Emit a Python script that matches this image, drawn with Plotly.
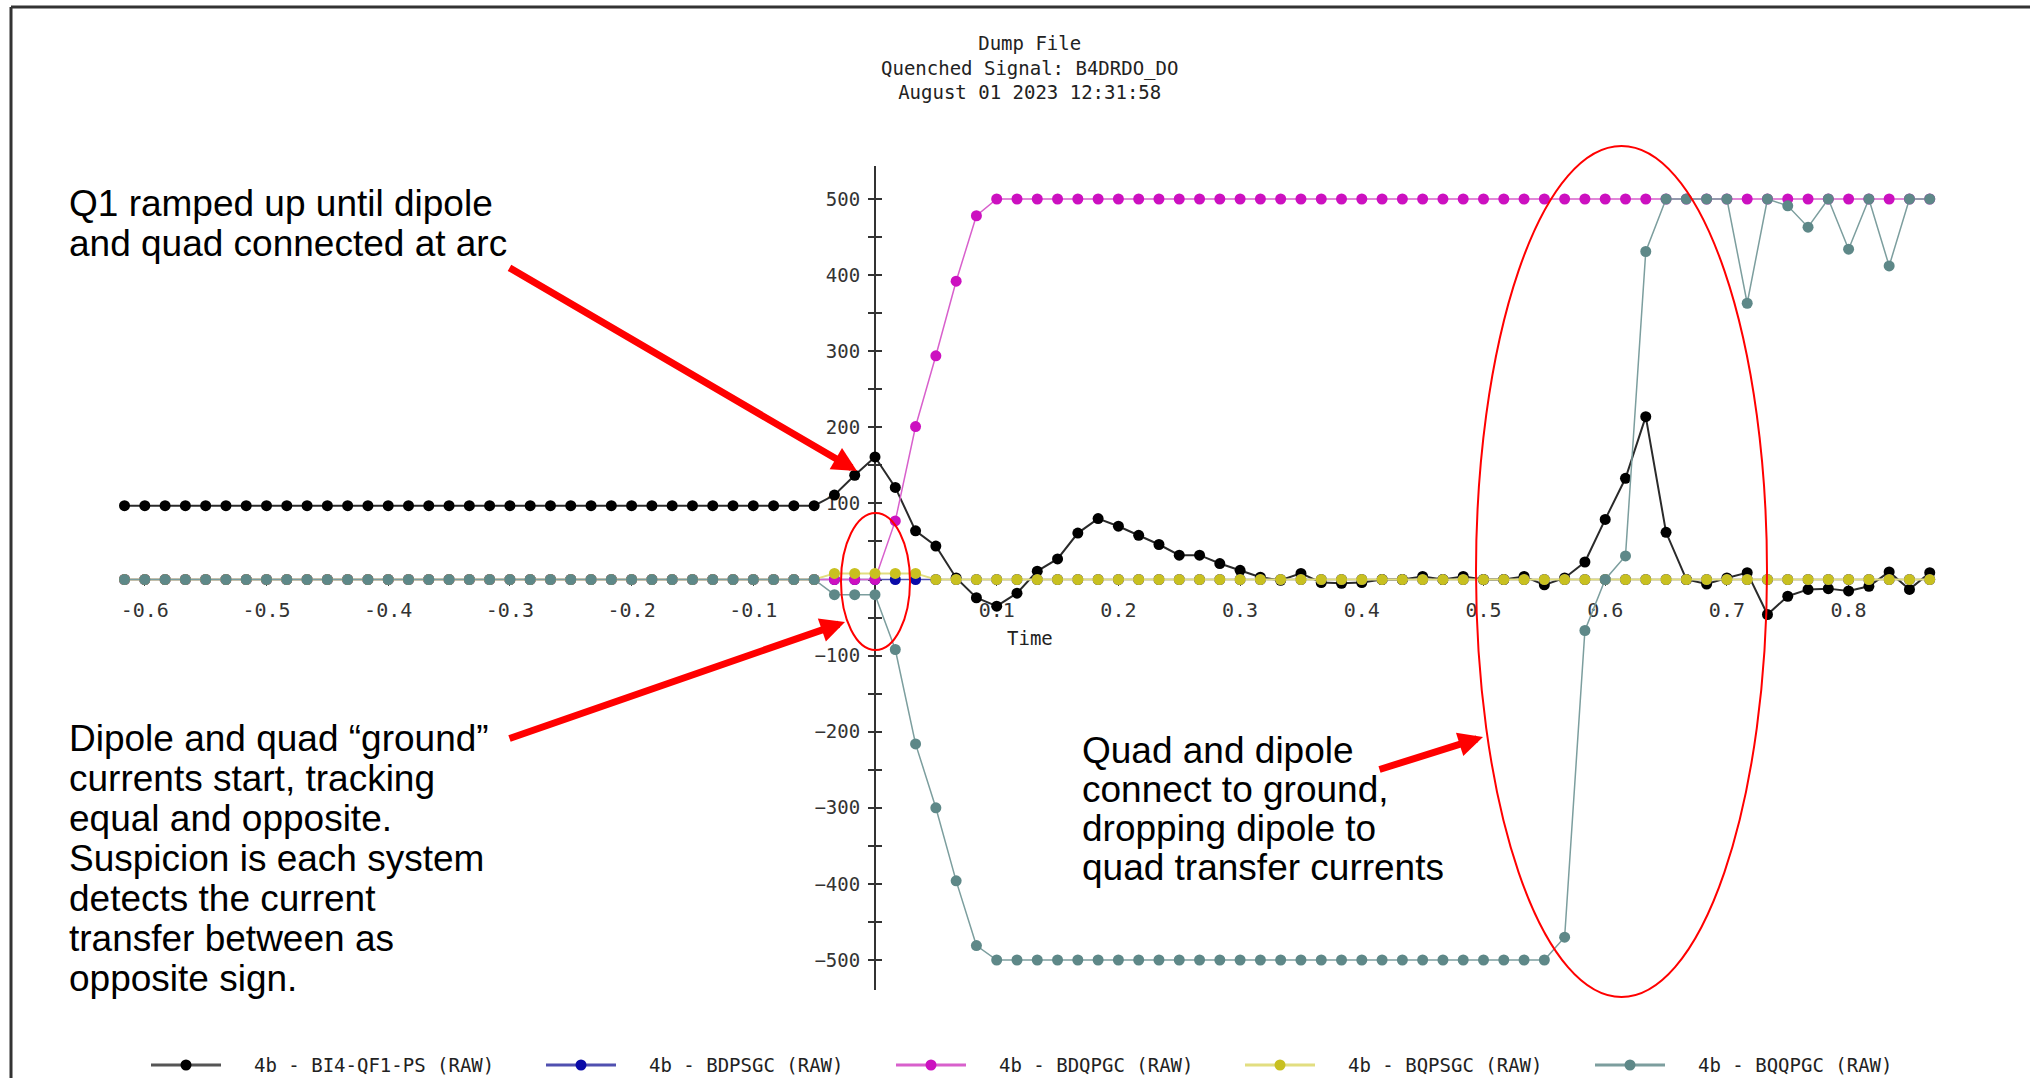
import plotly.graph_objects as go

# ---------------- data ----------------
# samples every 1/60 s, index -37 .. 52
sample_index = list(range(-37, 53))
time_s = [round(k / 60.0, 5) for k in sample_index]

series_names = [
    "4b - BI4-QF1-PS (RAW)",
    "4b - BDPSGC (RAW)",
    "4b - BDQPGC (RAW)",
    "4b - BQPSGC (RAW)",
    "4b - BQQPGC (RAW)",
]

bi4_qf1_ps = [
    97, 97, 97, 97, 97, 97, 97, 97, 97, 97, 97, 97, 97, 97, 97, 97, 97, 97,
    97, 97, 97, 97, 97, 97, 97, 97, 97, 97, 97, 97, 97, 97, 97, 97, 97,
    111, 137, 161, 121, 64, 44, 2, -24, -35, -18, 11, 27, 61, 80, 70, 58,
    46, 32, 32, 21, 12, 3, -1, 8, -4, -5, -4, 0, 0, 4, 0, 4, 0, 0, 4, -7,
    2, 23, 79, 133, 214, 62, 0, -6, 2, 9, -46, -22, -13, -12, -15, -9, 10,
    -13, 9,
]

bdpsgc = [
    0, 0, 0, 0, 0, 0, 0, 0, 0, 0, 0, 0, 0, 0, 0, 0, 0, 0, 0, 0, 0, 0, 0, 0,
    0, 0, 0, 0, 0, 0, 0, 0, 0, 0, 0, 0, 0, 0, 0, 0, 0, 0, 0, 0, 0, 0, 0, 0,
    0, 0, 0, 0, 0, 0, 0, 0, 0, 0, 0, 0, 0, 0, 0, 0, 0, 0, 0, 0, 0, 0, 0, 0,
    0, 0, 0, 0, 0, 0, 0, 0, 0, 0, 0, 0, 0, 0, 0, 0, 0, 0,
]

bdqpgc = [
    0, 0, 0, 0, 0, 0, 0, 0, 0, 0, 0, 0, 0, 0, 0, 0, 0, 0, 0, 0, 0, 0, 0, 0,
    0, 0, 0, 0, 0, 0, 0, 0, 0, 0, 0, 0, 0, 0,
    77, 201, 294, 392, 478,
    500, 500, 500, 500, 500, 500, 500, 500, 500, 500, 500, 500, 500, 500,
    500, 500, 500, 500, 500, 500, 500, 500, 500, 500, 500, 500, 500, 500,
    500, 500, 500, 500, 500, 500, 500, 500, 500, 500, 500, 500, 500, 500,
    500, 500, 500, 500, 500,
]

bqpsgc = [
    0, 0, 0, 0, 0, 0, 0, 0, 0, 0, 0, 0, 0, 0, 0, 0, 0, 0, 0, 0, 0, 0, 0, 0,
    0, 0, 0, 0, 0, 0, 0, 0, 0, 0, 0,
    8, 8, 8, 8, 8,
    0, 0, 0, 0, 0, 0, 0, 0, 0, 0, 0, 0, 0, 0, 0, 0, 0, 0, 0, 0, 0, 0, 0, 0,
    0, 0, 0, 0, 0, 0, 0, 0, 0, 0, 0, 0, 0, 0, 0, 0, 0, 0, 0, 0, 0, 0, 0, 0,
    0, 0,
]

bqqpgc = [
    0, 0, 0, 0, 0, 0, 0, 0, 0, 0, 0, 0, 0, 0, 0, 0, 0, 0, 0, 0, 0, 0, 0, 0,
    0, 0, 0, 0, 0, 0, 0, 0, 0, 0, 0,
    -20, -20, -20, -92, -216, -300, -396, -481,
    -500, -500, -500, -500, -500, -500, -500, -500, -500, -500, -500, -500,
    -500, -500, -500, -500, -500, -500, -500, -500, -500, -500, -500, -500,
    -500, -500, -500, -500,
    -470, -67, 0, 31, 431, 500, 500, 500, 500, 363, 500, 491, 463, 500, 434,
    500, 412, 500, 500,
]

x_tick_vals = [-0.6, -0.5, -0.4, -0.3, -0.2, -0.1, 0.1, 0.2, 0.3, 0.4, 0.5, 0.6, 0.7, 0.8]
x_tick_text = ["-0.6", "-0.5", "-0.4", "-0.3", "-0.2", "-0.1", "0.1", "0.2", "0.3",
               "0.4", "0.5", "0.6", "0.7", "0.8"]
y_tick_vals = [-500, -400, -300, -200, -100, 100, 200, 300, 400, 500]
y_minor_vals = [-450, -350, -250, -150, -50, 0, 50, 150, 250, 350, 450]

title_lines = ["Dump File", "Quenched Signal: B4DRDO_DO", "August 01 2023 12:31:58"]

note_1 = ["Q1 ramped up until dipole", "and quad connected at arc"]
note_2 = ["Dipole and quad \u201cground\u201d", "currents start, tracking",
          "equal and opposite.", "Suspicion is each system",
          "detects the current", "transfer between as", "opposite sign."]
note_3 = ["Quad and dipole", "connect to ground,", "dropping dipole to",
          "quad transfer currents"]

# ---------------- styling / geometry ----------------
FIG_W, FIG_H = 2030, 1078
L, R, T, B = 100, 1960, 166, 990          # plot area in pixels
X0PX, XSCALE = 875.0, 1217.0              # pixel of t=0, px per second
Y0PX, YSCALE = 579.5, 0.761               # pixel of value 0, px per unit

xr = [(L - X0PX) / XSCALE, (R - X0PX) / XSCALE]
yr = [(Y0PX - B) / YSCALE, (Y0PX - T) / YSCALE]


def pxx(p):
    return (p - L) / (R - L)


def pxy(p):
    return (B - p) / (B - T)


MONO = "DejaVu Sans Mono, Liberation Mono, monospace"
SANS = "Liberation Sans, Arial, Helvetica, sans-serif"

marker_colors = ["#000000", "#0a0aa8", "#cc10c0", "#c8c020", "#5e8888"]
line_colors = ["#2a2a2a", "#5050b0", "#d860cc", "#e2de80", "#7c9e9e"]
legend_line_colors = ["#555555", "#5050b0", "#d860cc", "#e2de80", "#7c9e9e"]
line_widths = [2, 1.5, 1.5, 2, 1.5]
all_series = [bi4_qf1_ps, bdpsgc, bdqpgc, bqpsgc, bqqpgc]

fig = go.Figure()
for name, vals, mc, lc, lw in zip(series_names, all_series, marker_colors,
                                  line_colors, line_widths):
    fig.add_trace(go.Scatter(
        x=time_s, y=vals, mode="lines+markers", name=name,
        line=dict(color=lc, width=lw),
        marker=dict(color=mc, size=11),
        showlegend=False,
    ))

# helper trace for the second (inside-tick) y axis
fig.add_trace(go.Scatter(x=[], y=[], yaxis="y2", showlegend=False, hoverinfo="skip"))

fig.update_layout(
    width=FIG_W, height=FIG_H,
    margin=dict(l=L, r=FIG_W - R, t=T, b=FIG_H - B, pad=0),
    paper_bgcolor="white", plot_bgcolor="white",
    showlegend=False,
    xaxis=dict(
        range=xr, domain=[0, 1], anchor="free",
        position=pxy(Y0PX),
        showgrid=False, zeroline=False, showline=False,
        tickmode="array", tickvals=x_tick_vals, ticktext=x_tick_text,
        ticks="outside", ticklen=5, tickwidth=1, tickcolor="#444",
        tickfont=dict(family=MONO, size=20, color="#333"),
        ticklabelstandoff=7,
        layer="below traces",
    ),
    yaxis=dict(
        range=yr, domain=[0, 1], anchor="free", position=pxx(X0PX),
        showgrid=False, zeroline=False, showline=True,
        linecolor="#333", linewidth=2,
        tickmode="array", tickvals=y_tick_vals,
        ticks="outside", ticklen=6, tickwidth=2, tickcolor="#333",
        tickfont=dict(family=MONO, size=19, color="#333"),
        ticklabelstandoff=4,
        minor=dict(tickmode="array", tickvals=y_minor_vals, ticks="outside",
                   ticklen=6, tickwidth=2, tickcolor="#333"),
        layer="below traces",
    ),
    yaxis2=dict(
        range=yr, overlaying="y", anchor="free", position=pxx(X0PX),
        showgrid=False, zeroline=False, showline=False, showticklabels=False,
        tickmode="array", tickvals=y_tick_vals,
        ticks="inside", ticklen=6, tickwidth=2, tickcolor="#333",
        minor=dict(tickmode="array", tickvals=y_minor_vals, ticks="inside",
                   ticklen=6, tickwidth=2, tickcolor="#333"),
        layer="below traces",
    ),
)

annotations = []
shapes = []

# title
annotations.append(dict(
    text="<br>".join(title_lines), x=pxx(1029), y=pxy(68), xref="paper", yref="paper",
    xanchor="center", yanchor="middle", showarrow=False,
    font=dict(family=MONO, size=19, color="#222"),
))
# axis title
annotations.append(dict(
    text="Time", x=pxx(1030), y=pxy(638), xref="paper", yref="paper",
    xanchor="center", yanchor="middle", showarrow=False,
    font=dict(family=MONO, size=19, color="#222"),
))


# note text blocks (one annotation per line to match the tight line spacing)
def add_block(lines, x_left, first_center, step):
    for i, line in enumerate(lines):
        annotations.append(dict(
            text=line, x=pxx(x_left), y=pxy(first_center + i * step),
            xref="paper", yref="paper", xanchor="left", yanchor="middle",
            showarrow=False, font=dict(family=SANS, size=37, color="#000"),
        ))


add_block(note_1, 67, 203, 40)
add_block(note_2, 67, 738, 40)
add_block(note_3, 1080, 750, 39)

# red arrows (tip, tail in pixels)
arrows = [((857, 471), (508, 267)), ((845, 622), (508, 739)), ((1483, 737), (1378, 770))]
for (tx, ty), (sx, sy) in arrows:
    annotations.append(dict(
        text="", x=pxx(tx), y=pxy(ty), xref="paper", yref="paper",
        ax=sx - tx, ay=sy - ty, axref="pixel", ayref="pixel",
        showarrow=True, arrowhead=2, arrowsize=0.7, arrowwidth=7,
        arrowcolor="#ff0000", standoff=0,
    ))

# red ellipses
for x0, x1, y0, y1 in [(841, 910, 513, 650), (1476, 1767, 146, 997)]:
    shapes.append(dict(type="circle", xref="paper", yref="paper",
                       x0=pxx(x0), x1=pxx(x1), y0=pxy(y1), y1=pxy(y0),
                       line=dict(color="#ff0000", width=2), layer="above"))

# outer frame lines (screenshot border)
shapes.append(dict(type="line", xref="paper", yref="paper",
                   x0=pxx(11), x1=pxx(2030), y0=pxy(7), y1=pxy(7),
                   line=dict(color="#333", width=3)))
shapes.append(dict(type="line", xref="paper", yref="paper",
                   x0=pxx(11), x1=pxx(11), y0=pxy(7), y1=pxy(1078),
                   line=dict(color="#333", width=3)))

# legend row
legend_text_x = [252, 647, 997, 1346, 1696]
LEG_Y = 1065
for name, mc, lc, tx in zip(series_names, marker_colors, legend_line_colors, legend_text_x):
    lx0, lx1 = tx - 101, tx - 31
    shapes.append(dict(type="line", xref="paper", yref="paper",
                       x0=pxx(lx0), x1=pxx(lx1), y0=pxy(LEG_Y), y1=pxy(LEG_Y),
                       line=dict(color=lc, width=3)))
    cx = (lx0 + lx1) / 2
    shapes.append(dict(type="circle", xref="paper", yref="paper",
                       x0=pxx(cx - 5.5), x1=pxx(cx + 5.5), y0=pxy(LEG_Y + 5.5),
                       y1=pxy(LEG_Y - 5.5),
                       fillcolor=mc, line=dict(color=mc, width=0)))
    annotations.append(dict(
        text=name, x=pxx(tx), y=pxy(LEG_Y), xref="paper", yref="paper",
        xanchor="left", yanchor="middle", showarrow=False,
        font=dict(family=MONO, size=19, color="#222"),
    ))

fig.update_layout(annotations=annotations, shapes=shapes)

fig.write_html(
    "out.html",
    config={"displayModeBar": False},
    post_script="document.body.style.margin='0';document.body.style.overflow='hidden';",
)
